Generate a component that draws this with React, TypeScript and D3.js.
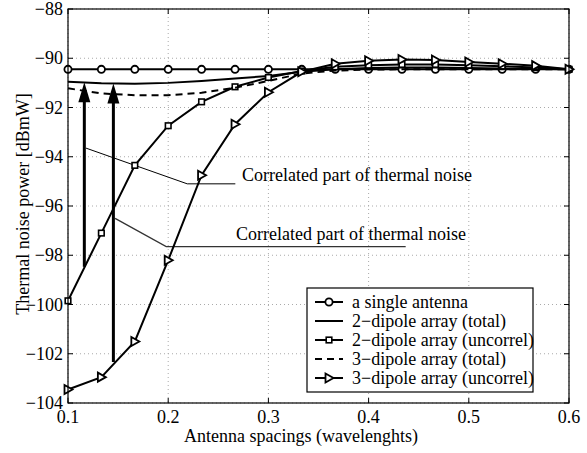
import React from 'react'
import * as d3 from 'd3'

const spacings = [0.1, 0.1333, 0.1667, 0.2, 0.2333, 0.2667, 0.3, 0.3333, 0.3667, 0.4, 0.4333, 0.4667, 0.5, 0.5333, 0.5667, 0.6]
const singleAntenna = [-90.45, -90.45, -90.45, -90.45, -90.45, -90.45, -90.45, -90.45, -90.45, -90.45, -90.45, -90.45, -90.45, -90.45, -90.45, -90.45]
const dipole2Total = [-90.95, -91.02, -91.04, -91.0, -90.92, -90.82, -90.72, -90.55, -90.45, -90.4, -90.38, -90.38, -90.4, -90.42, -90.43, -90.45]
const dipole2Uncorr = [-99.85, -97.1, -94.35, -92.74, -91.77, -91.16, -90.78, -90.52, -90.35, -90.28, -90.25, -90.25, -90.28, -90.32, -90.38, -90.45]
const dipole3Total = [-91.22, -91.43, -91.5, -91.5, -91.4, -91.2, -90.92, -90.62, -90.5, -90.46, -90.45, -90.45, -90.45, -90.45, -90.45, -90.45]
const dipole3Uncorr = [-103.45, -102.95, -101.5, -98.2, -94.75, -92.68, -91.38, -90.55, -90.22, -90.1, -90.05, -90.07, -90.15, -90.22, -90.3, -90.45]

const xTicks = [0.1, 0.2, 0.3, 0.4, 0.5, 0.6]
const yTicks = [-88, -90, -92, -94, -96, -98, -100, -102, -104]

// arrows: [x, bottom, top]
const arrows = [
  [0.1163, -98.47, -90.97],
  [0.1453, -102.34, -91.03],
]
// annotation leader lines: start point, knee, end of horizontal part (data units)
const notes = [
  { from: [0.118, -93.65], knee: [0.219, -95.1], to: [0.267, -95.1], text: 'Correlated part of thermal noise', tx: 0.2737, ty: -94.98 },
  { from: [0.147, -96.5], knee: [0.198, -97.65], to: [0.437, -97.65], text: 'Correlated part of thermal noise', tx: 0.2677, ty: -97.38 },
]

const legendLabels = ['a single antenna', '2\u2212dipole array (total)', '2\u2212dipole array (uncorrel)', '3\u2212dipole array (total)', '3\u2212dipole array (uncorrel)']

const W = 587
const H = 453
const margin = { left: 68, right: 18, top: 9, bottom: 50 }
const font = 'Liberation Serif, Times New Roman, serif'
const fs = 18

function Marker({ kind, x, y }: { kind: string; x: number; y: number }) {
  if (kind === 'circle') return <circle cx={x} cy={y} r={3.6} fill="white" stroke="black" strokeWidth={1.8} />
  if (kind === 'square') return <rect x={x - 2.8} y={y - 2.8} width={5.6} height={5.6} fill="white" stroke="black" strokeWidth={1.6} />
  if (kind === 'tri') return <path d={`M${x - 3.5},${y - 4.5}L${x + 4.5},${y}L${x - 3.5},${y + 4.5}Z`} fill="white" stroke="black" strokeWidth={1.8} />
  return null
}

export default function App() {
  const x = d3.scaleLinear().domain([0.1, 0.6]).range([margin.left, W - margin.right])
  const y = d3.scaleLinear().domain([-104, -88]).range([H - margin.bottom, margin.top])
  const line = d3.line<[number, number]>().x((d) => x(d[0])).y((d) => y(d[1]))

  const series = [
    { vals: singleAntenna, marker: 'circle', dash: '' },
    { vals: dipole2Total, marker: '', dash: '' },
    { vals: dipole2Uncorr, marker: 'square', dash: '' },
    { vals: dipole3Total, marker: '', dash: '7 5' },
    { vals: dipole3Uncorr, marker: 'tri', dash: '' },
  ]

  const [x0, x1] = x.range()
  const [y0, y1] = y.range()
  const legend = { x: 307, y: 288, w: 226, h: 104 }

  return (
    <svg width={W} height={H} style={{ position: 'absolute', left: 0, top: 0, background: 'white', fontFamily: font }}>
      <rect width={W} height={H} fill="white" />
      {/* grid */}
      {xTicks.map((t) => (
        <line key={'gx' + t} x1={x(t)} x2={x(t)} y1={y1} y2={y0} stroke="#aaa" strokeWidth={1} strokeDasharray="1 3" />
      ))}
      {yTicks.map((t) => (
        <line key={'gy' + t} x1={x0} x2={x1} y1={y(t)} y2={y(t)} stroke="#aaa" strokeWidth={1} strokeDasharray="1 3" />
      ))}
      {/* ticks */}
      {xTicks.map((t) => (
        <g key={'tx' + t}>
          <line x1={x(t)} x2={x(t)} y1={y0} y2={y0 - 5} stroke="black" />
          <line x1={x(t)} x2={x(t)} y1={y1} y2={y1 + 5} stroke="black" />
          <text x={x(t)} y={y0 + 20} textAnchor="middle" fontSize={fs}>{t.toFixed(1)}</text>
        </g>
      ))}
      {yTicks.map((t) => (
        <g key={'ty' + t}>
          <line x1={x0} x2={x0 + 5} y1={y(t)} y2={y(t)} stroke="black" />
          <line x1={x1} x2={x1 - 5} y1={y(t)} y2={y(t)} stroke="black" />
          <text x={x0 - 5} y={y(t) + 6} textAnchor="end" fontSize={fs}>{'\u2212' + Math.abs(t)}</text>
        </g>
      ))}
      {/* annotations */}
      {notes.map((n, i) => (
        <g key={'n' + i}>
          <polyline
            points={[n.from, n.knee, n.to].map((p) => `${x(p[0])},${y(p[1])}`).join(' ')}
            fill="none"
            stroke={i === 0 ? 'black' : '#333'}
            strokeWidth={i === 0 ? 1 : 1.3}
          />
          <text x={x(n.tx)} y={y(n.ty)} fontSize={fs}>{n.text}</text>
        </g>
      ))}
      {/* series */}
      {series.map((s, i) => {
        const pts = spacings.map((sp, j) => [sp, s.vals[j]] as [number, number])
        return (
          <g key={'s' + i}>
            <path d={line(pts) || ''} fill="none" stroke="black" strokeWidth={2} strokeDasharray={s.dash} />
            {s.marker && pts.map((p, j) => <Marker key={j} kind={s.marker} x={x(p[0])} y={y(p[1])} />)}
          </g>
        )
      })}
      {/* arrows */}
      {arrows.map((a, i) => {
        const ax = x(a[0])
        const top = y(a[2])
        return (
          <g key={'a' + i}>
            <line x1={ax} x2={ax} y1={y(a[1])} y2={top + 15} stroke="black" strokeWidth={3} />
            <path d={`M${ax},${top}L${ax - 6},${top + 20}L${ax + 6},${top + 20}Z`} fill="black" />
          </g>
        )
      })}
      {/* frame */}
      <rect x={x0} y={y1} width={x1 - x0} height={y0 - y1} fill="none" stroke="black" strokeWidth={1.2} />
      {/* axis labels */}
      <text x={301} y={442} textAnchor="middle" fontSize={fs}>Antenna spacings (wavelenghts)</text>
      <text transform={`translate(29,${(y0 + y1) / 2 - 2}) rotate(-90)`} textAnchor="middle" fontSize={fs}>Thermal noise power [dBmW]</text>
      {/* legend */}
      <rect x={legend.x} y={legend.y} width={legend.w} height={legend.h} fill="white" stroke="black" strokeWidth={1.2} />
      {legendLabels.map((lab, i) => {
        const ly = legend.y + 14 + i * 19
        const s = series[i]
        return (
          <g key={'l' + i}>
            <line x1={legend.x + 8} x2={legend.x + 36} y1={ly} y2={ly} stroke="black" strokeWidth={2} strokeDasharray={s.dash} />
            {s.marker && <Marker kind={s.marker} x={legend.x + 22} y={ly} />}
            <text x={legend.x + 45} y={ly + 6} fontSize={fs}>{lab}</text>
          </g>
        )
      })}
    </svg>
  )
}
